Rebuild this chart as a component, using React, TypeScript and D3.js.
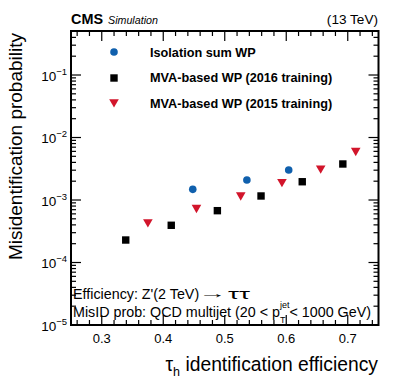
import React from "react";
import * as d3 from "d3";

const isoX = [0.448, 0.536, 0.604];
const isoY = [1.48e-3, 2.09e-3, 3.02e-3];
const mva16X = [0.339, 0.413, 0.488, 0.559, 0.626, 0.692];
const mva16Y = [2.29e-4, 3.94e-4, 6.75e-4, 1.16e-3, 1.96e-3, 3.77e-3];
const mva15X = [0.375, 0.454, 0.526, 0.593, 0.656, 0.713];
const mva15Y = [4.29e-4, 7.27e-4, 1.15e-3, 1.89e-3, 3.1e-3, 5.93e-3];
const xTicks = [0.3, 0.4, 0.5, 0.6, 0.7];
const yExps = [-5, -4, -3, -2, -1];
const legendLabels = ["Isolation sum WP", "MVA-based WP (2016 training)", "MVA-based WP (2015 training)"];

const BLUE = "#1060ad";
const RED = "#d2152b";
const FONT = "'Liberation Sans', Arial, Helvetica, sans-serif";

export default function App() {
  const W = 399, H = 383;
  const L = 71, R = 378.5, T = 31, B = 325;
  const x = d3.scaleLinear().domain([0.25, 0.75]).range([L, R]);
  const y = d3.scaleLog().domain([1e-5, 0.506]).range([B, T]);

  const xMinor = d3.range(0.26, 0.7501, 0.02).filter(v => Math.abs(Math.round(v * 10) - v * 10) > 1e-6);
  const yMinor: number[] = [];
  for (let e = -5; e <= -1; e++) for (let m = 2; m <= 9; m++) { const v = m * Math.pow(10, e); if (v <= 0.506) yMinor.push(v); }

  const tri = (cx: number, cy: number) => {
    const s = 4.8;
    return `M${cx - s},${cy - s * 0.8}L${cx + s},${cy - s * 0.8}L${cx},${cy + s * 0.95}Z`;
  };

  return (
    <svg width={W} height={H} style={{ position: "absolute", left: 0, top: 0 }} fontFamily={FONT}>
      <rect x={0} y={0} width={W} height={H} fill="#fff" />
      {/* ticks */}
      <g stroke="#000" strokeWidth={1.2}>
        {xTicks.map(v => (
          <g key={"xt" + v}>
            <line x1={x(v)} x2={x(v)} y1={B} y2={B - 10} />
            <line x1={x(v)} x2={x(v)} y1={T} y2={T + 10} />
          </g>
        ))}
        {xMinor.map((v, i) => (
          <g key={"xm" + i}>
            <line x1={x(v)} x2={x(v)} y1={B} y2={B - 5} />
            <line x1={x(v)} x2={x(v)} y1={T} y2={T + 5} />
          </g>
        ))}
        {yExps.map(e => (
          <g key={"yt" + e}>
            <line x1={L} x2={L + 10} y1={y(Math.pow(10, e))} y2={y(Math.pow(10, e))} />
            <line x1={R} x2={R - 10} y1={y(Math.pow(10, e))} y2={y(Math.pow(10, e))} />
          </g>
        ))}
        {yMinor.map((v, i) => (
          <g key={"ym" + i}>
            <line x1={L} x2={L + 5} y1={y(v)} y2={y(v)} />
            <line x1={R} x2={R - 5} y1={y(v)} y2={y(v)} />
          </g>
        ))}
      </g>
      <rect x={L} y={T} width={R - L} height={B - T} fill="none" stroke="#000" strokeWidth={2} />

      {/* tick labels */}
      {xTicks.map(v => (
        <text key={"xl" + v} x={x(v)} y={343} textAnchor="middle" fontSize={13}>{v.toFixed(1)}</text>
      ))}
      {yExps.map(e => (
        <text key={"yl" + e} x={67} y={y(Math.pow(10, e)) + 5.5} textAnchor="end" fontSize={13.5}>
          10<tspan fontSize={9.5} dy={-6}>{"\u2212" + Math.abs(e)}</tspan>
        </text>
      ))}

      {/* data */}
      {mva16X.map((v, i) => (
        <rect key={"s" + i} x={x(v) - 3.7} y={y(mva16Y[i]) - 3.7} width={7.4} height={7.4} fill="#000" />
      ))}
      {mva15X.map((v, i) => (
        <path key={"t" + i} d={tri(x(v), y(mva15Y[i]))} fill={RED} />
      ))}
      {isoX.map((v, i) => (
        <circle key={"c" + i} cx={x(v)} cy={y(isoY[i])} r={3.8} fill={BLUE} />
      ))}

      {/* legend */}
      <circle cx={114} cy={52} r={3.8} fill={BLUE} />
      <rect x={114 - 3.7} y={78 - 3.7} width={7.4} height={7.4} fill="#000" />
      <path d={tri(114, 103)} fill={RED} />
      {legendLabels.map((t, i) => (
        <text key={"lg" + i} x={150} y={[56.5, 82, 107.5][i]} fontSize={12.7} fontWeight="bold">{t}</text>
      ))}

      {/* header */}
      <text x={71} y={24} fontSize={14.4} fontWeight="bold">CMS</text>
      <text x={108} y={24} fontSize={10.7} fontStyle="italic">Simulation</text>
      <text x={378} y={24} fontSize={13.6} textAnchor="end">(13 TeV)</text>

      {/* annotations */}
      <text x={73} y={299} fontSize={14.3}>Efficiency: Z'(2 TeV)</text>
      <text x={198} y={298} fontSize={13} textLength={28} lengthAdjust="spacingAndGlyphs">{"\u2192"}</text>
      <text x={228} y={299} fontSize={14.5} textLength={22} lengthAdjust="spacingAndGlyphs">{"\u03c4\u03c4"}</text>
      <text x={73} y={317} fontSize={14.3}>
        {"MisID prob: QCD multijet (20 < p"}
        <tspan fontSize={9} dy={-9}>jet</tspan>
        <tspan fontSize={9} dy={15} dx={-9.5}>T</tspan>
        <tspan dy={-6} dx={4}>{"< 1000 GeV)"}</tspan>
      </text>

      {/* axis titles */}
      <text x={378} y={371} fontSize={19.3} textAnchor="end">
        {"\u03c4"}<tspan fontSize={12.5} dy={5}>h</tspan><tspan dy={-5}> identification efficiency</tspan>
      </text>
      <text transform="translate(22,33) rotate(-90)" fontSize={19} textAnchor="end">Misidentification probability</text>
    </svg>
  );
}
